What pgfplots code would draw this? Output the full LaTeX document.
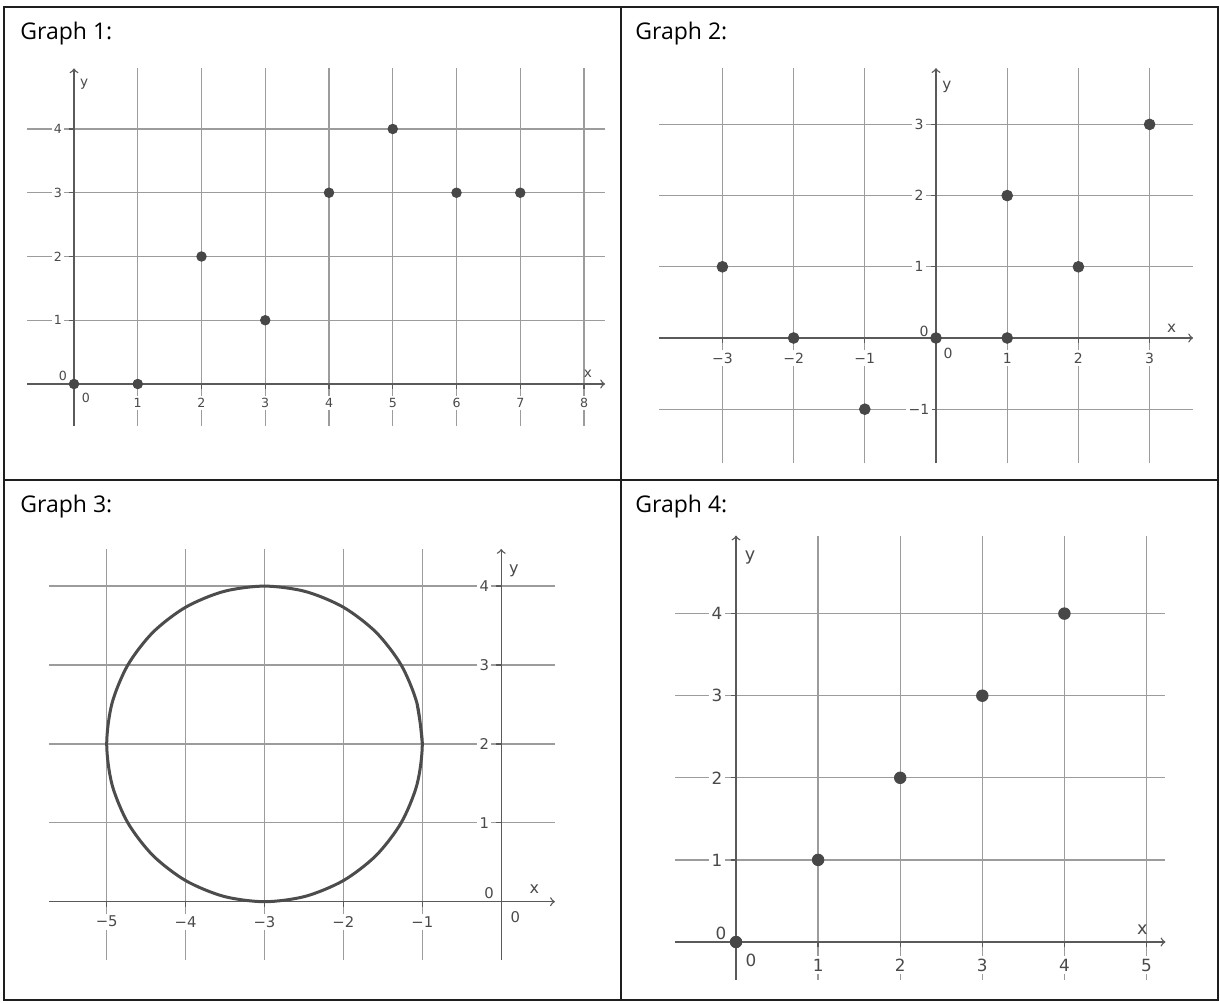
\documentclass[border=0pt]{standalone}
\usepackage{fontspec}
\setmainfont{Open Sans}
\newfontfamily\dvs{DejaVu Sans}
\usepackage{pgfplots}
\pgfplotsset{compat=1.18}

\definecolor{gridc}{HTML}{9C9C9C}
\definecolor{axisc}{HTML}{5A5A5A}
\definecolor{labc}{HTML}{4A4A4A}
\definecolor{ptc}{HTML}{474747}
\definecolor{framec}{HTML}{1E1E1E}

% 1 px of the reference = 0.5pt
\pgfplotsset{
  geo/.style={
    anchor=origin,
    axis lines=middle,
    axis line style={axisc, line width=0.7pt},
    every inner x axis line/.append style={-to},
    every inner y axis line/.append style={-to},
    grid=major,
    grid style={gridc, line width=0.65pt},
    tick align=outside,
    major tick length=2.5pt,
    tick style={axisc, line width=0.65pt},
    tick label style={text=labc, fill=white, inner sep=1.2pt},
    xticklabel style={anchor=center},
    yticklabel style={anchor=center},
    /pgf/number format/assume math mode=true,
    clip=false,
  },
  dots/.style={only marks, mark=*, mark size=#1, color=ptc},
}

\begin{document}
\begin{tikzpicture}
\fill[white] (0,0) rectangle (610pt,501pt);
\path[use as bounding box] (0,0) rectangle (610pt,501pt);

% titles
\node[anchor=base west, inner sep=0, font=\fontsize{11.5}{13}\selectfont] at (10pt,481pt) {Graph 1:};
\node[anchor=base west, inner sep=0, font=\fontsize{11.5}{13}\selectfont] at (317.5pt,481pt) {Graph 2:};
\node[anchor=base west, inner sep=0, font=\fontsize{11.5}{13}\selectfont] at (10pt,244.5pt) {Graph 3:};
\node[anchor=base west, inner sep=0, font=\fontsize{11.5}{13}\selectfont] at (317.5pt,244.5pt) {Graph 4:};

% Graph 1
\begin{axis}[geo, at={(37pt,309pt)}, x=31.875pt, y=31.875pt,
  xmin=-0.74, xmax=8.33, ymin=-0.66, ymax=4.95,
  xtick={1,2,3,4,5,6,7,8}, ytick={1,2,3,4},
  tick label style={font=\dvs\fontsize{6.3}{7}\selectfont},
  xticklabel style={yshift=-7pt}, yticklabel style={xshift=-5.5pt},
  xlabel={x}, ylabel={y},
  xlabel style={at={(axis cs:8.06,0.16)}, anchor=center, text=labc, font=\dvs\fontsize{6.8}{8}\selectfont},
  ylabel style={at={(axis cs:0.16,4.71)}, anchor=center, text=labc, font=\dvs\fontsize{6.8}{8}\selectfont}]
\addplot[dots=2.4pt] coordinates {(0,0) (1,0) (2,2) (3,1) (4,3) (5,4) (6,3) (7,3)};
\node[text=labc, font=\dvs\fontsize{6.3}{7}\selectfont] at (axis cs:0,0) [xshift=-5.5pt, yshift=4pt] {0};
\node[text=labc, font=\dvs\fontsize{6.3}{7}\selectfont] at (axis cs:0,0) [xshift=6pt, yshift=-7pt] {0};
\end{axis}

% Graph 2
\begin{axis}[geo, at={(468pt,332pt)}, x=35.6pt, y=35.6pt,
  xmin=-3.89, xmax=3.61, ymin=-1.76, ymax=3.79,
  xtick={-3,-2,-1,1,2,3}, xticklabels={−3,−2,−1,1,2,3},
  ytick={-1,1,2,3}, yticklabels={−1,1,2,3},
  tick label style={font=\dvs\fontsize{7}{8}\selectfont},
  xticklabel style={yshift=-7.5pt}, yticklabel style={xshift=-6pt},
  xlabel={x}, ylabel={y},
  xlabel style={at={(axis cs:3.31,0.14)}, anchor=center, text=labc, font=\dvs\fontsize{7.6}{9}\selectfont},
  ylabel style={at={(axis cs:0.154,3.53)}, anchor=center, text=labc, font=\dvs\fontsize{7.6}{9}\selectfont}]
\addplot[dots=2.7pt] coordinates {(-3,1) (-2,0) (-1,-1) (0,0) (1,0) (1,2) (2,1) (3,3)};
\node[text=labc, font=\dvs\fontsize{7}{8}\selectfont] at (axis cs:0,0) [xshift=-6pt, yshift=3.5pt] {0};
\node[text=labc, font=\dvs\fontsize{7}{8}\selectfont] at (axis cs:0,0) [xshift=6pt, yshift=-7.5pt] {0};
\end{axis}

% Graph 3
\begin{axis}[geo, at={(250.6pt,50.15pt)}, x=39.45pt, y=39.45pt,
  xmin=-5.73, xmax=0.68, ymin=-0.74, ymax=4.47,
  xtick={-5,-4,-3,-2,-1}, xticklabels={−5,−4,−3,−2,−1},
  ytick={1,2,3,4},
  tick label style={font=\dvs\fontsize{7.4}{9}\selectfont},
  xticklabel style={yshift=-7.5pt}, yticklabel style={xshift=-6pt},
  xlabel={x}, ylabel={y},
  xlabel style={at={(axis cs:0.42,0.16)}, anchor=center, text=labc, font=\dvs\fontsize{8}{9}\selectfont},
  ylabel style={at={(axis cs:0.16,4.2)}, anchor=center, text=labc, font=\dvs\fontsize{8}{9}\selectfont}]
\addplot[smooth, color=axisc!85!black, line width=1.5pt] coordinates {
 (-1,2) (-1.0681,2.5176) (-1.2679,3) (-1.5858,3.4142) (-2,3.7321) (-2.4824,3.9319)
 (-3,4) (-3.5176,3.9319) (-4,3.7321) (-4.4142,3.4142) (-4.7321,3) (-4.9319,2.5176)
 (-5,2) (-4.9319,1.4824) (-4.7321,1) (-4.4142,0.5858) (-4,0.2679) (-3.5176,0.0681)
 (-3,0) (-2.4824,0.0681) (-2,0.2679) (-1.5858,0.5858) (-1.2679,1) (-1.0681,1.4824)
 (-1,2) (-1.0681,2.5176)};
\node[text=labc, font=\dvs\fontsize{7.4}{9}\selectfont] at (axis cs:0,0) [xshift=-6pt, yshift=4.3pt] {0};
\node[text=labc, font=\dvs\fontsize{7.4}{9}\selectfont] at (axis cs:0,0) [xshift=7pt, yshift=-7.5pt] {0};
\end{axis}

% Graph 4
\begin{axis}[geo, at={(368pt,30pt)}, x=41.05pt, y=41.05pt,
  xmin=-0.74, xmax=5.23, ymin=-0.46, ymax=4.95,
  xtick={1,2,3,4,5}, ytick={1,2,3,4},
  tick label style={font=\dvs\fontsize{8.4}{10}\selectfont},
  xticklabel style={yshift=-9pt}, yticklabel style={xshift=-7pt},
  xlabel={x}, ylabel={y},
  xlabel style={at={(axis cs:4.95,0.15)}, anchor=center, text=labc, font=\dvs\fontsize{8.8}{10}\selectfont},
  ylabel style={at={(axis cs:0.17,4.68)}, anchor=center, text=labc, font=\dvs\fontsize{8.8}{10}\selectfont}]
\addplot[dots=2.9pt] coordinates {(0,0) (1,1) (2,2) (3,3) (4,4)};
\node[text=labc, font=\dvs\fontsize{8.4}{10}\selectfont] at (axis cs:0,0) [xshift=-7.5pt, yshift=4.5pt] {0};
\node[text=labc, font=\dvs\fontsize{8.4}{10}\selectfont] at (axis cs:0,0) [xshift=7.5pt, yshift=-9pt] {0};
\end{axis}

% table frame
\draw[framec, line width=1.3pt] (2pt,1pt) rectangle (609pt,497.5pt);
\draw[framec, line width=1.3pt] (310.5pt,1pt) -- (310.5pt,497.5pt);
\draw[framec, line width=1.3pt] (2pt,261pt) -- (609pt,261pt);
\end{tikzpicture}
\end{document}
